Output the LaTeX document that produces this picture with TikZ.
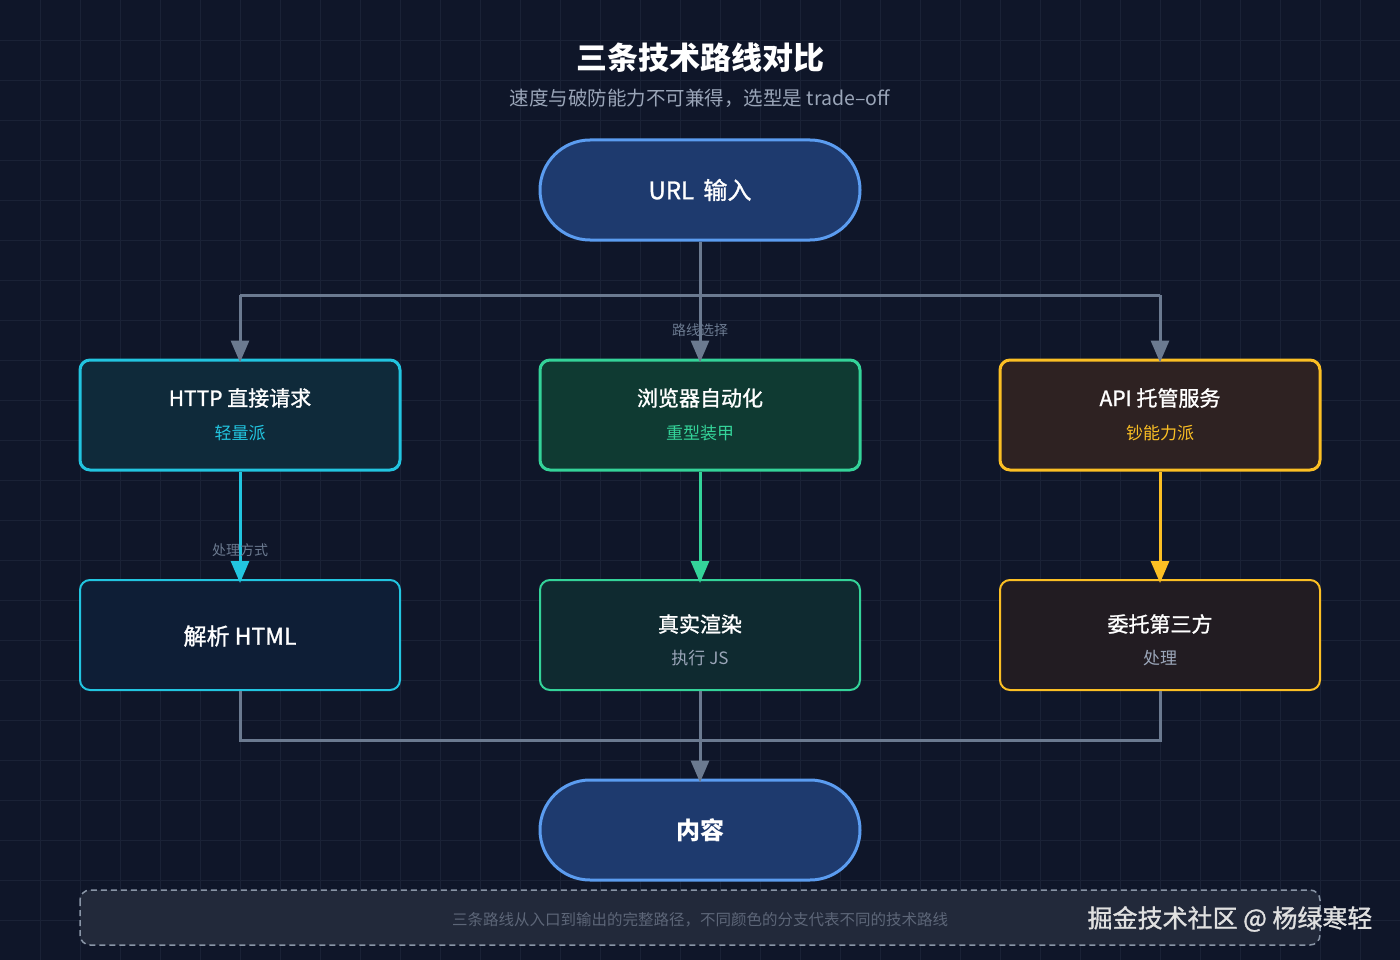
\documentclass[tikz,border=0pt]{standalone}
\usepackage{fontspec}
\setmainfont{Noto Sans CJK SC}
\newfontfamily\medfont{Noto Sans CJK SC}[FakeBold=1.2]
\usetikzlibrary{arrows.meta}
\definecolor{bg}{HTML}{0F1629}
\definecolor{gridc}{HTML}{1A2236}
\definecolor{conn}{HTML}{6B7A90}
\definecolor{blueb}{HTML}{5B9CF0}\definecolor{bluef}{HTML}{1E3A6E}
\definecolor{cyanb}{HTML}{22C5E0}\definecolor{cyanf}{HTML}{0F2A3A}\definecolor{cyanf2}{HTML}{0E1E36}
\definecolor{greenb}{HTML}{34D399}\definecolor{greenf}{HTML}{0F3A32}\definecolor{greenf2}{HTML}{0F2A30}
\definecolor{amberb}{HTML}{FBBF24}\definecolor{amberf}{HTML}{2E2222}\definecolor{amberf2}{HTML}{221C22}
\definecolor{subt}{HTML}{9AA5B8}
\definecolor{foot}{HTML}{5D6678}
\begin{document}
\begin{tikzpicture}[x=1pt,y=-1pt,
  stad/.style={draw=blueb,fill=bluef,line width=3pt,rounded corners=50pt,minimum width=320pt,minimum height=100pt,text=white,font=\medfont\fontsize{24}{28}\selectfont},
  box/.style={rounded corners=10pt,minimum width=320pt,minimum height=110pt,align=center,text=white},
  conn/.style={draw=conn,line width=3pt},
  arr/.style={line width=3pt,-{Triangle[width=18pt,length=22pt]}},
  lbl/.style={text=conn,font=\fontsize{14}{16}\selectfont},
  tt/.style={text=white,font=\medfont\fontsize{21}{24}\selectfont},
]
\fill[bg] (0,0) rectangle (1400,960);
\useasboundingbox (0,0) rectangle (1400,960);
\foreach \i in {40,80,...,1399} \draw[gridc,line width=0.8pt] (\i,0)--(\i,960);
\foreach \j in {40,80,...,959} \draw[gridc,line width=0.8pt] (0,\j)--(1400,\j);

\node[text=white,font=\bfseries\fontsize{31}{34}\selectfont] (title) at (700,58) {三条技术路线对比};
\node[text=subt,font=\fontsize{19.5}{22}\selectfont] (sub) at (700,98) {速度与破防能力不可兼得，选型是 trade–off};

\node[stad] (url) at (700,190) {URL\, 输入};
\node[stad,font=\bfseries\fontsize{24}{28}\selectfont] (out) at (700,830) {内容};

\node[box,draw=cyanb,fill=cyanf,line width=3pt] (http) at (240,415) {};
\node[box,draw=greenb,fill=greenf,line width=3pt] (brow) at (700,415) {};
\node[box,draw=amberb,fill=amberf,line width=3pt] (api) at (1160,415) {};
\node[tt] at (240,398) {HTTP 直接请求};
\node[text=cyanb,font=\fontsize{17}{20}\selectfont] at (240,433) {轻量派};
\node[tt] at (700,398) {浏览器自动化};
\node[text=greenb,font=\fontsize{17}{20}\selectfont] at (700,433) {重型装甲};
\node[tt] at (1160,398) {API 托管服务};
\node[text=amberb,font=\fontsize{17}{20}\selectfont] at (1160,433) {钞能力派};

\node[box,draw=cyanb,fill=cyanf2,line width=2pt] (parse) at (240,635) {};
\node[box,draw=greenb,fill=greenf2,line width=2pt] (rend) at (700,635) {};
\node[box,draw=amberb,fill=amberf2,line width=2pt] (dele) at (1160,635) {};
\node[text=white,font=\medfont\fontsize{23}{26}\selectfont] at (240,636) {解析 HTML};
\node[tt] at (700,624) {真实渲染};
\node[text=subt,font=\fontsize{17}{20}\selectfont] at (700,658) {执行 JS};
\node[tt] at (1160,624) {委托第三方};
\node[text=subt,font=\fontsize{17}{20}\selectfont] at (1160,658) {处理};

\coordinate (j1) at (700,295);
\draw[conn] (url.south) -- (j1);
\draw[conn] (240,295) -- (1160,295);
\draw[conn,arr] (240,295) -- ([yshift=-4pt]http.north);
\draw[conn,arr] (1160,295) -- ([yshift=-4pt]api.north);
\draw[conn,arr] (j1) -- ([yshift=-4pt]brow.north);
\node[lbl] at (700,330) {路线选择};

\draw[cyanb,arr] (http.south) -- ([yshift=-4pt]parse.north);
\draw[greenb,arr] (brow.south) -- ([yshift=-4pt]rend.north);
\draw[amberb,arr] (api.south) -- ([yshift=-4pt]dele.north);
\node[lbl] at (240,550) {处理方式};

\draw[conn] (parse.south) |- (1160,740) -- (dele.south);
\draw[conn,arr] (rend.south) -- ([yshift=-4pt]out.north);

\draw[draw=conn!80,fill=white!8!bg,dashed,dash pattern=on 6pt off 4pt,line width=1.5pt,rounded corners=10pt] (80,890) rectangle (1320,945);
\node[text=foot,font=\fontsize{15.5}{18}\selectfont] (ft) at (700,920) {三条路线从入口到输出的完整路径，不同颜色的分支代表不同的技术路线};
\node[text=white!88!black,font=\medfont\fontsize{25}{28}\selectfont] (wm) at (1230,919) {掘金技术社区 @ 杨绿寒轻};
\end{tikzpicture}
\end{document}
